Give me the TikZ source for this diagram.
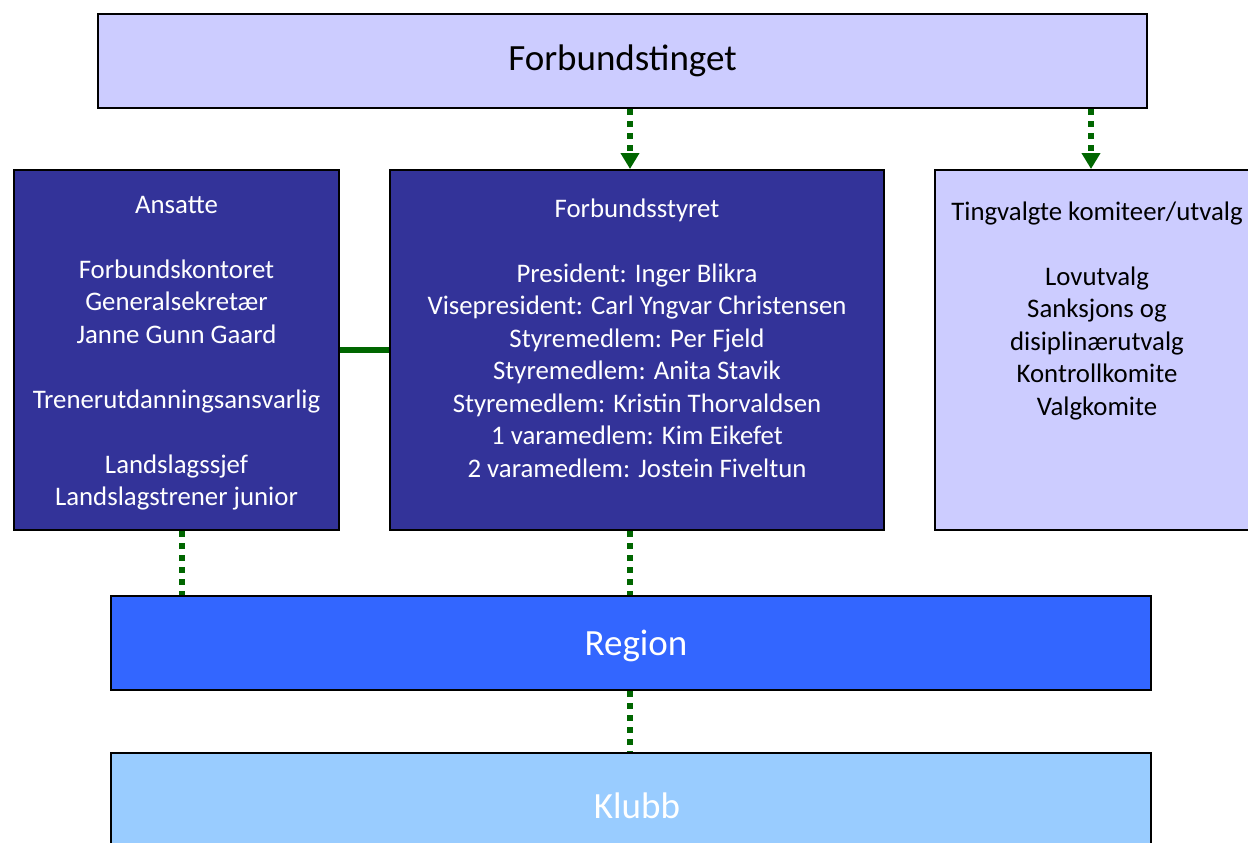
\documentclass[tikz,border=0pt]{standalone}
\usepackage{fontspec}
\setmainfont{Carlito}
\usetikzlibrary{arrows.meta}
\definecolor{lilac}{HTML}{CCCCFF}
\definecolor{navy}{HTML}{333399}
\definecolor{regionblue}{HTML}{3366FF}
\definecolor{klubbblue}{HTML}{99CCFF}
\definecolor{linkgreen}{HTML}{006600}

\begin{document}
\begin{tikzpicture}[x=1pt,y=-1pt,line width=2pt,
  box/.style={draw=black,inner sep=0pt,align=center},
  big/.style={font=\fontsize{37}{44}\selectfont},
  small/.style={font=\fontsize{26.8}{32.5}\selectfont,align=center},
  link/.style={draw=linkgreen,line width=6pt,dash pattern=on 6pt off 6pt},
  tip/.style={-{Triangle[width=18pt,length=16pt]}}]
\useasboundingbox (0,0) rectangle (1248,843);
\clip (0,0) rectangle (1248,843);

\node[box,fill=lilac,minimum width=1049pt,minimum height=94pt,big] (ting) at (622.5,61) {Forbundstinget};

\node[box,fill=navy,minimum width=325pt,minimum height=360pt] (ansatte) at (176.5,350) {};
\node[small,text=white] (ansatteliste) at ([yshift=-3pt]ansatte.center)
  {Ansatte\\[32.5pt]Forbundskontoret\\Generalsekretær\\Janne Gunn Gaard\\[32.5pt]Trenerutdanningsansvarlig\\[32.5pt]Landslagssjef\\Landslagstrener junior};

\node[box,fill=navy,minimum width=494pt,minimum height=360pt] (styret) at (637,350) {};
\node[small,text=white] (styretliste) at ([yshift=12pt]styret.center)
  {Forbundsstyret\\[32.5pt]President: Inger Blikra\\Visepresident: Carl Yngvar Christensen\\Styremedlem: Per Fjeld\\Styremedlem: Anita Stavik\\Styremedlem: Kristin Thorvaldsen\\1 varamedlem: Kim Eikefet\\2 varamedlem: Jostein Fiveltun};

\node[box,fill=lilac,minimum width=324pt,minimum height=360pt] (utvalg) at (1097,350) {};
\node[small] (utvalgliste) at ([yshift=39.5pt]utvalg.center)
  {Tingvalgte komiteer/utvalg\\[32.5pt]Lovutvalg\\Sanksjons og\\disiplinærutvalg\\Kontrollkomite\\Valgkomite};

\node[box,fill=regionblue,minimum width=1040pt,minimum height=94pt] (region) at (631,643) {};
\node[big,text=white] (regiontekst) at ([xshift=5pt,yshift=-3pt]region.center) {Region};
\node[box,fill=klubbblue,minimum width=1040pt,minimum height=106pt] (klubb) at (631,806) {};
\node[big,text=white] (klubbtekst) at ([xshift=6pt]klubb.center) {Klubb};

\coordinate (leftline) at (182,0);
\coordinate (midline) at (630,0);
\coordinate (rightline) at (1091,0);
\draw[link,tip] (ting.south -| midline) -- (styret.north -| midline);
\draw[link,tip] (ting.south -| rightline) -- (utvalg.north -| rightline);
\draw[linkgreen,line width=6pt] (ansatte.east) -- (styret.west);
\draw[link] (ansatte.south -| leftline) -- (region.north -| leftline);
\draw[link] (styret.south -| midline) -- (region.north -| midline);
\draw[link] (region.south -| midline) -- (klubb.north -| midline);
\end{tikzpicture}
\end{document}
